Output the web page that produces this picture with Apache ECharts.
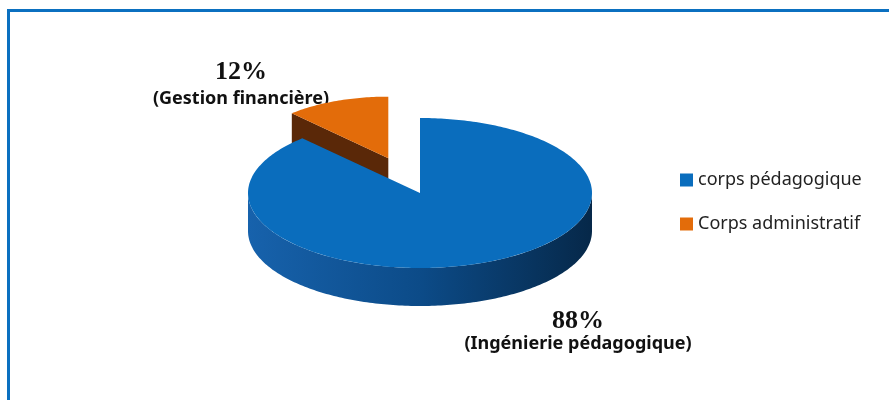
<!DOCTYPE html>
<html>
<head>
<meta charset="utf-8">
<script src="https://cdn.jsdelivr.net/npm/echarts@6/dist/echarts.min.js"></script>
<style>
  html, body { margin: 0; padding: 0; background: #fff; }
  #chart { width: 889px; height: 400px; }
</style>
</head>
<body>
<div id="chart"></div>
<script>
// données
const categories = ['corps pédagogique', 'Corps administratif'];
const values = [88, 12];
const subLabels = ['(Ingénierie pédagogique)', '(Gestion financière)'];
const topColors = ['#0A6DBD', '#E36C0A'];
const sideColors = [
  ['#1762AC', '#0C4B88', '#062849'],
  ['#6E3210', '#5A2808', '#4A2006']
];

// géométrie du camembert "3D" (ellipse vue de biais)
const pie = { cx: 420, cy: 193, rx: 172, ry: 75, depth: 38 };
// éclatement de la part orange (décalage + petite perspective)
const explode = [{ dist: 0, scale: 1 }, { dist: 0.5, scale: 0.82 }];

const total = values.reduce((a, b) => a + b, 0);

function sliceRender(idx) {
  return function (params, api) {
    const v = api.value(0);
    const before = values.slice(0, idx).reduce((a, b) => a + b, 0);
    // angles en sens horaire depuis midi
    const a0 = before / total * Math.PI * 2;
    const a1 = (before + v) / total * Math.PI * 2;
    const mid = (a0 + a1) / 2;
    const ex = explode[idx];
    const cx = pie.cx + ex.dist * pie.rx * Math.sin(mid);
    const cy = pie.cy - ex.dist * pie.ry * Math.cos(mid);
    const rx = pie.rx * ex.scale;
    const ry = pie.ry * ex.scale;
    const d = pie.depth * ex.scale;
    const P = (t, dy) => [cx + rx * Math.sin(t), cy - ry * Math.cos(t) + (dy || 0)];
    const arc = (s, e, dy) => {
      const pts = [];
      const n = Math.max(2, Math.ceil((e - s) / (Math.PI / 180)));
      for (let k = 0; k <= n; k++) pts.push(P(s + (e - s) * k / n, dy));
      return pts;
    };
    const children = [];
    const sideFill = new echarts.graphic.LinearGradient(0, 0, 1, 0, [
      { offset: 0, color: sideColors[idx][0] },
      { offset: 0.5, color: sideColors[idx][1] },
      { offset: 1, color: sideColors[idx][2] }
    ]);
    // faces de coupe visibles
    const cutFace = (t) => ({
      type: 'polygon',
      shape: { points: [[cx, cy], P(t), P(t, d), [cx, cy + d]] },
      style: { fill: sideColors[idx][1] }
    });
    if (Math.sin(a0) < -1e-6) children.push(cutFace(a0));
    if (Math.sin(a1) > 1e-6) children.push(cutFace(a1));
    // flanc extérieur (partie avant seulement)
    const s = Math.max(a0, Math.PI / 2);
    const e = Math.min(a1, Math.PI * 1.5);
    if (e > s) {
      const topPts = arc(s, e, 0);
      const botPts = arc(s, e, d).reverse();
      children.push({
        type: 'polygon',
        shape: { points: topPts.concat(botPts) },
        style: { fill: sideFill }
      });
    }
    // face du dessus
    children.push({
      type: 'polygon',
      shape: { points: [[cx, cy]].concat(arc(a0, a1, 0)) },
      style: { fill: topColors[idx] }
    });
    return { type: 'group', children: children };
  };
}

const chart = echarts.init(document.getElementById('chart'));

const option = {
  backgroundColor: '#fff',
  animation: false,
  legend: {
    data: categories,
    orient: 'vertical',
    left: 675,
    top: 166,
    icon: 'rect',
    itemWidth: 13,
    itemHeight: 13,
    itemGap: 26,
    selectedMode: false,
    textStyle: { fontFamily: 'Noto Sans', fontSize: 18, color: '#222' }
  },
  graphic: [
    {
      type: 'rect', z: -10,
      shape: { x: 8.5, y: 10.5, width: 1000, height: 1000 },
      style: { fill: 'none', stroke: '#0B70C0', lineWidth: 3 }
    },
    {
      type: 'text', x: 241, y: 72,
      style: { text: Math.round(values[1] / total * 100) + '%', fill: '#111',
        font: 'bold 26px "Liberation Serif"', align: 'center', verticalAlign: 'middle' }
    },
    {
      type: 'text', x: 241, y: 99,
      style: { text: subLabels[1], fill: '#111',
        font: 'bold 18px "Noto Sans"', align: 'center', verticalAlign: 'middle' }
    },
    {
      type: 'text', x: 578, y: 321,
      style: { text: Math.round(values[0] / total * 100) + '%', fill: '#111',
        font: 'bold 26px "Liberation Serif"', align: 'center', verticalAlign: 'middle' }
    },
    {
      type: 'text', x: 578, y: 344,
      style: { text: subLabels[0], fill: '#111',
        font: 'bold 18px "Noto Sans"', align: 'center', verticalAlign: 'middle' }
    }
  ],
  series: categories.map((name, i) => ({
    type: 'custom',
    name: name,
    coordinateSystem: 'none',
    z: i === 0 ? 3 : 2,
    itemStyle: { color: topColors[i] },
    renderItem: sliceRender(i),
    data: [[values[i]]]
  }))
};

chart.setOption(option);
</script>
</body>
</html>
